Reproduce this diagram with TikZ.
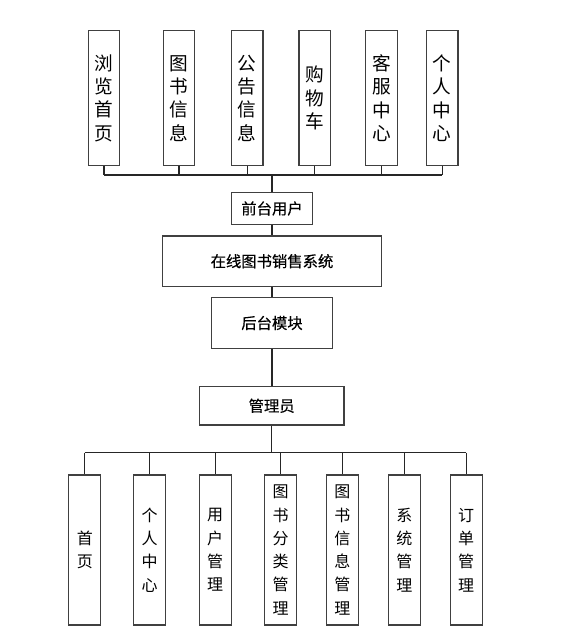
\documentclass[tikz,border=0pt]{standalone}
\usepackage{fontspec}
\setmainfont{Noto Sans CJK SC}
\newfontfamily\midfont[FakeBold=0.4]{Noto Sans CJK SC}
\begin{document}
\begin{tikzpicture}[x=0.75pt,y=-0.75pt,
  box/.style={draw=black!75,line width=0.9pt,fill=white,inner sep=0pt,align=center},
  topbox/.style={box,minimum width=23.6pt,minimum height=101.3pt,font=\fontsize{14}{17.5}\selectfont},
  botbox/.style={box,minimum width=24pt,minimum height=112.5pt,font=\fontsize{12}{17.5}\selectfont},
  midbox/.style={box,font=\midfont\fontsize{11.5}{14}\selectfont},
  conn/.style={draw=black!85,line width=0.8pt}]
\useasboundingbox (0,0) rectangle (575,639);
% top boxes
\node[topbox] (t1) at (104,98.2) {浏\\览\\首\\页};
\node[topbox] (t2) at (179,98.2) {图\\书\\信\\息};
\node[topbox] (t3) at (247.3,98.2) {公\\告\\信\\息};
\node[topbox] (t4) at (314.7,98.2) {购\\物\\车};
\node[topbox] (t5) at (381.5,98.2) {客\\服\\中\\心};
\node[topbox] (t6) at (442.2,98.2) {个\\人\\中\\心};
% middle
\node[midbox,minimum width=61pt,minimum height=23.7pt] (u) at (272,208.5) {前台用户};
\node[midbox,minimum width=163.7pt,minimum height=37.9pt] (s) at (272,261.2) {在线图书销售系统};
\node[midbox,minimum width=91pt,minimum height=38pt] (h) at (272,323) {后台模块};
\node[midbox,minimum width=108.5pt,minimum height=28.7pt] (m) at (271.7,405.8) {管理员};
% bottom boxes
\node[botbox] (b1) at (84.8,550) {首\\页};
\node[botbox] (b2) at (149.5,550) {个\\人\\中\\心};
\node[botbox] (b3) at (215.2,550) {用\\户\\管\\理};
\node[botbox] (b4) at (280.5,550) {图\\书\\分\\类\\管\\理};
\node[botbox] (b5) at (342.3,550) {图\\书\\信\\息\\管\\理};
\node[botbox] (b6) at (404.3,550) {系\\统\\管\\理};
\node[botbox] (b7) at (466.2,550) {订\\单\\管\\理};
% top bus
\coordinate (tb) at (272,175);
\foreach \i in {1,...,6} {\draw[conn] (t\i.south) -- (t\i.south |- tb);}
\draw[conn] (t1.south |- tb) -- (t6.south |- tb);
\draw[conn,line width=1.6pt] (tb) -- (u.north);
% spine
\draw[conn] (u.south) -- (u.south |- s.north);
\draw[conn] (s.south) -- (s.south |- h.north);
\draw[conn] (h.south) -- (h.south |- m.north);
% bottom bus
\coordinate (bb) at (271.7,452.7);
\draw[conn] (m.south) -- (bb);
\draw[conn] (b1.north |- bb) -- (b7.north |- bb);
\foreach \i in {1,...,7} {\draw[conn] (b\i.north |- bb) -- (b\i.north);}
\end{tikzpicture}
\end{document}
